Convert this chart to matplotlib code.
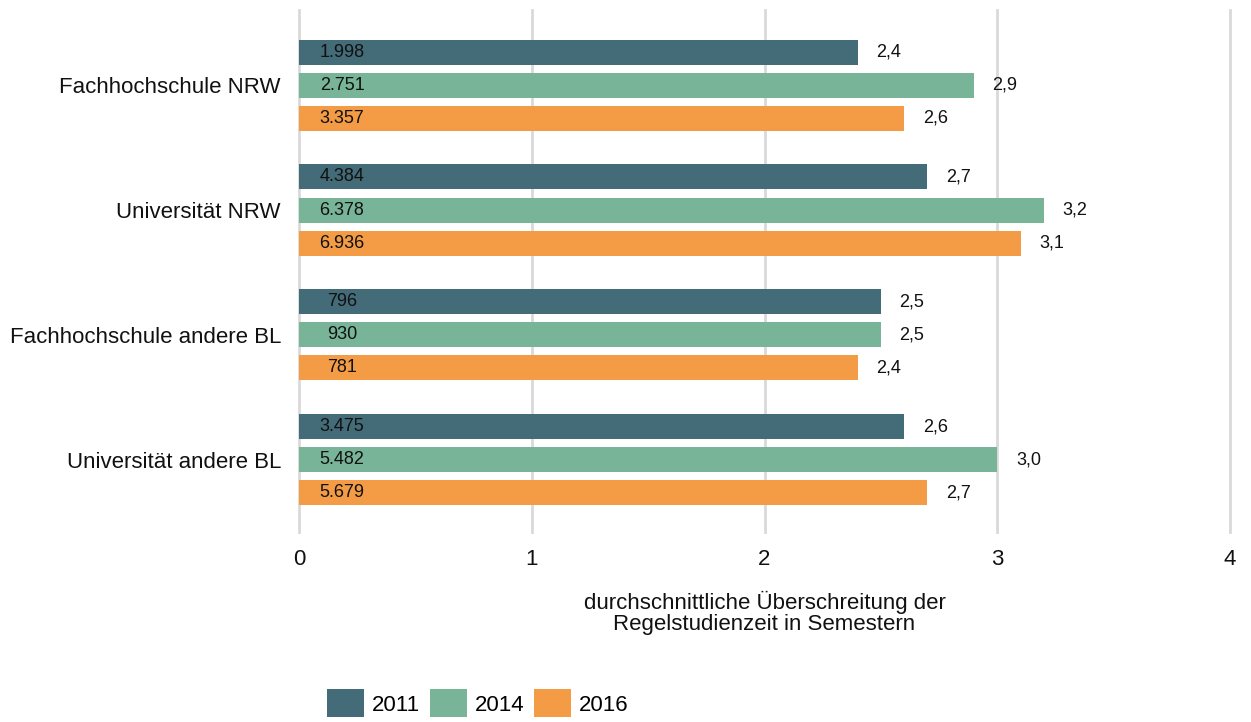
import numpy as np
import matplotlib.pyplot as plt
from matplotlib.patches import Patch

plt.rcParams['font.family'] = ['Liberation Sans', 'DejaVu Sans']

groups = ['Fachhochschule NRW', 'Universität NRW', 'Fachhochschule andere BL', 'Universität andere BL']
years = ['2011', '2014', '2016']
colors = ['#436b78', '#78b497', '#f39c45']

# mean semesters over standard duration, per year
overrun = {
    '2011': [2.4, 2.7, 2.5, 2.6],
    '2014': [2.9, 3.2, 2.5, 3.0],
    '2016': [2.6, 3.1, 2.4, 2.7],
}
# number of graduates shown inside the bars
counts = {
    '2011': ['1.998', '4.384', '796', '3.475'],
    '2014': ['2.751', '6.378', '930', '5.482'],
    '2016': ['3.357', '6.936', '781', '5.679'],
}

fig = plt.figure(figsize=(12.51, 7.22), dpi=100)
ax = fig.add_axes([299 / 1251, 1 - 532 / 722, (1230 - 299) / 1251, (532 - 10) / 722])

y = np.arange(len(groups))
step = 0.265
h = 0.2
for k, yr in enumerate(years):
    pos = y + (k - 1) * step
    vals = overrun[yr]
    ax.barh(pos, vals, height=h, color=colors[k], zorder=3)
    for p, v, c in zip(pos, vals, counts[yr]):
        ax.text(0.185, p, c, ha='center', va='center', fontsize=13, color='#111111', zorder=4)
        ax.text(v + 0.08, p, f'{v:.1f}'.replace('.', ','), ha='left', va='center',
                fontsize=13, color='#111111', zorder=4)

ax.set_xlim(0, 4)
ax.set_ylim(3.58, -0.603)
ax.set_xticks([0, 1, 2, 3, 4])
ax.set_yticks(y)
ax.set_yticklabels(groups)
ax.tick_params(axis='both', length=0, labelsize=16, colors='#111111')
ax.tick_params(axis='x', pad=12)
ax.tick_params(axis='y', pad=13)
ax.grid(axis='x', color='#d9d9d9', linewidth=2, zorder=0)
ax.grid(axis='y', visible=False)
for gl in ax.xaxis.get_gridlines():
    gl.set_clip_on(False)
for s in ax.spines.values():
    s.set_visible(False)

ax.set_xlabel('durchschnittliche Überschreitung der\nRegelstudienzeit in Semestern',
              fontsize=16, color='#111111', labelpad=15, linespacing=1.0)

handles = [Patch(facecolor=c, label=yr) for c, yr in zip(colors, years)]
fig.legend(handles=handles, loc='center', bbox_to_anchor=(0.382, 0.026), ncol=3,
           frameon=False, fontsize=16, handlelength=1.67, handleheight=1.58,
           handletextpad=0.36, columnspacing=0.42, borderpad=0, borderaxespad=0)

fig.savefig('out.png', dpi=100)
